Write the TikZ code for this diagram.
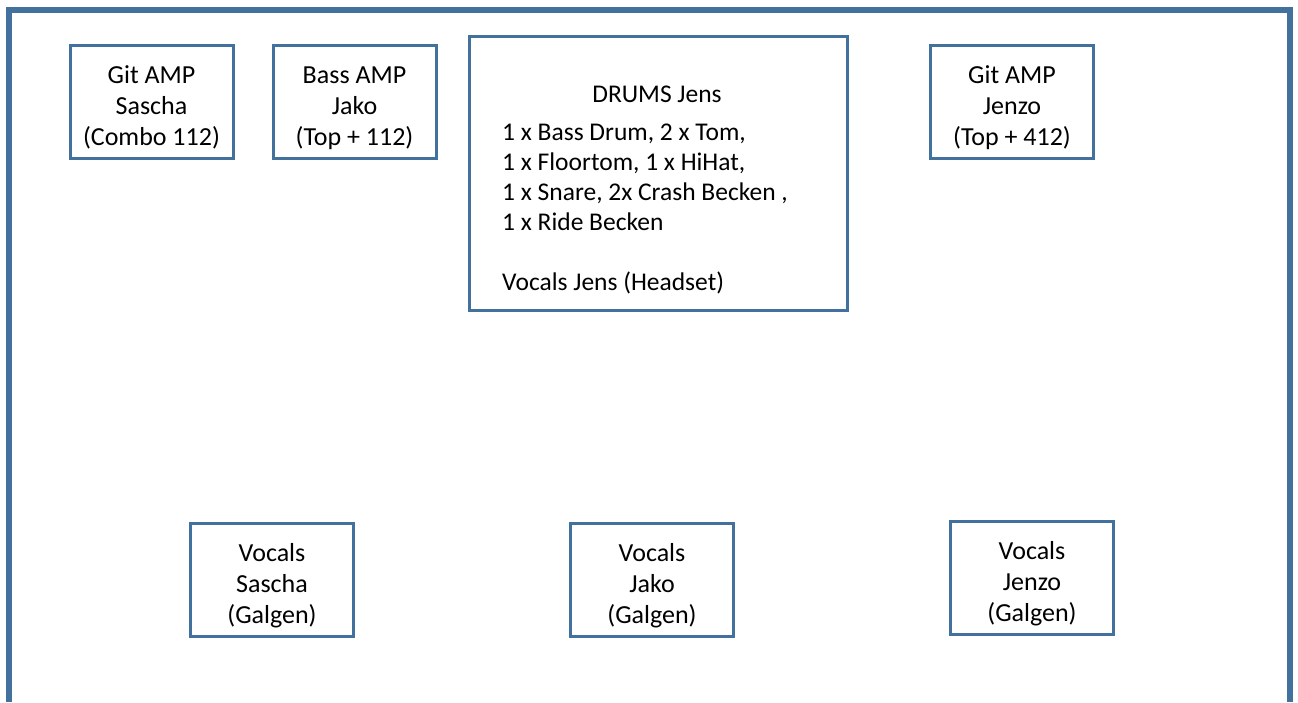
\documentclass[tikz,border=0pt]{standalone}
\usepackage{fontspec}
\setmainfont{Carlito}
\usepackage{xcolor}
\usepackage{tikz}
\definecolor{stageblue}{HTML}{41719C}
\newcommand{\topgap}{\rule{0pt}{30pt}}

\begin{document}
\begin{tikzpicture}[
    x=1pt, y=-1pt,
    box/.style={rectangle, draw=stageblue, line width=3pt, minimum width=163pt, minimum height=113pt, align=center, inner sep=0pt, font=\fontsize{26}{31}\selectfont},
    txt/.style={inner sep=0pt, font=\fontsize{25.5}{30}\selectfont}
]
    \useasboundingbox (0,0) rectangle (1298,702);
    \draw[stageblue, line width=6pt] (9,702) -- (9,10) -- (1290,10) -- (1290,702);

    \node[box] (gitsascha) at (151.5,101.5) {\topgap Git AMP\\Sascha\\(Combo 112)};
    \node[box] (bassjako) at (354.5,101.5) {\topgap Bass AMP\\Jako\\(Top + 112)};
    \node[box] (gitjenzo) at (1012,101.5) {\topgap Git AMP\\Jenzo\\(Top + 412)};

    \node[rectangle, draw=stageblue, line width=3pt, minimum width=378pt, minimum height=274pt] (drums) at (658,173) {};
    \node[txt] (drumstitle) at (657,94) {DRUMS Jens};
    \node[txt, anchor=north west, align=left] (drumslist) at (502,124) {1 x Bass Drum, 2 x Tom,\\1 x Floortom, 1 x HiHat,\\1 x Snare, 2x Crash Becken ,\\1 x Ride Becken\\[30pt]Vocals Jens (Headset)};

    \node[box] (vocsascha) at (272,579.5) {\topgap Vocals\\Sascha\\(Galgen)};
    \node[box] (vocjako) at (652,579.5) {\topgap Vocals\\Jako\\(Galgen)};
    \node[box] (vocjenzo) at (1032,577.5) {\topgap Vocals\\Jenzo\\(Galgen)};
\end{tikzpicture}
\end{document}
